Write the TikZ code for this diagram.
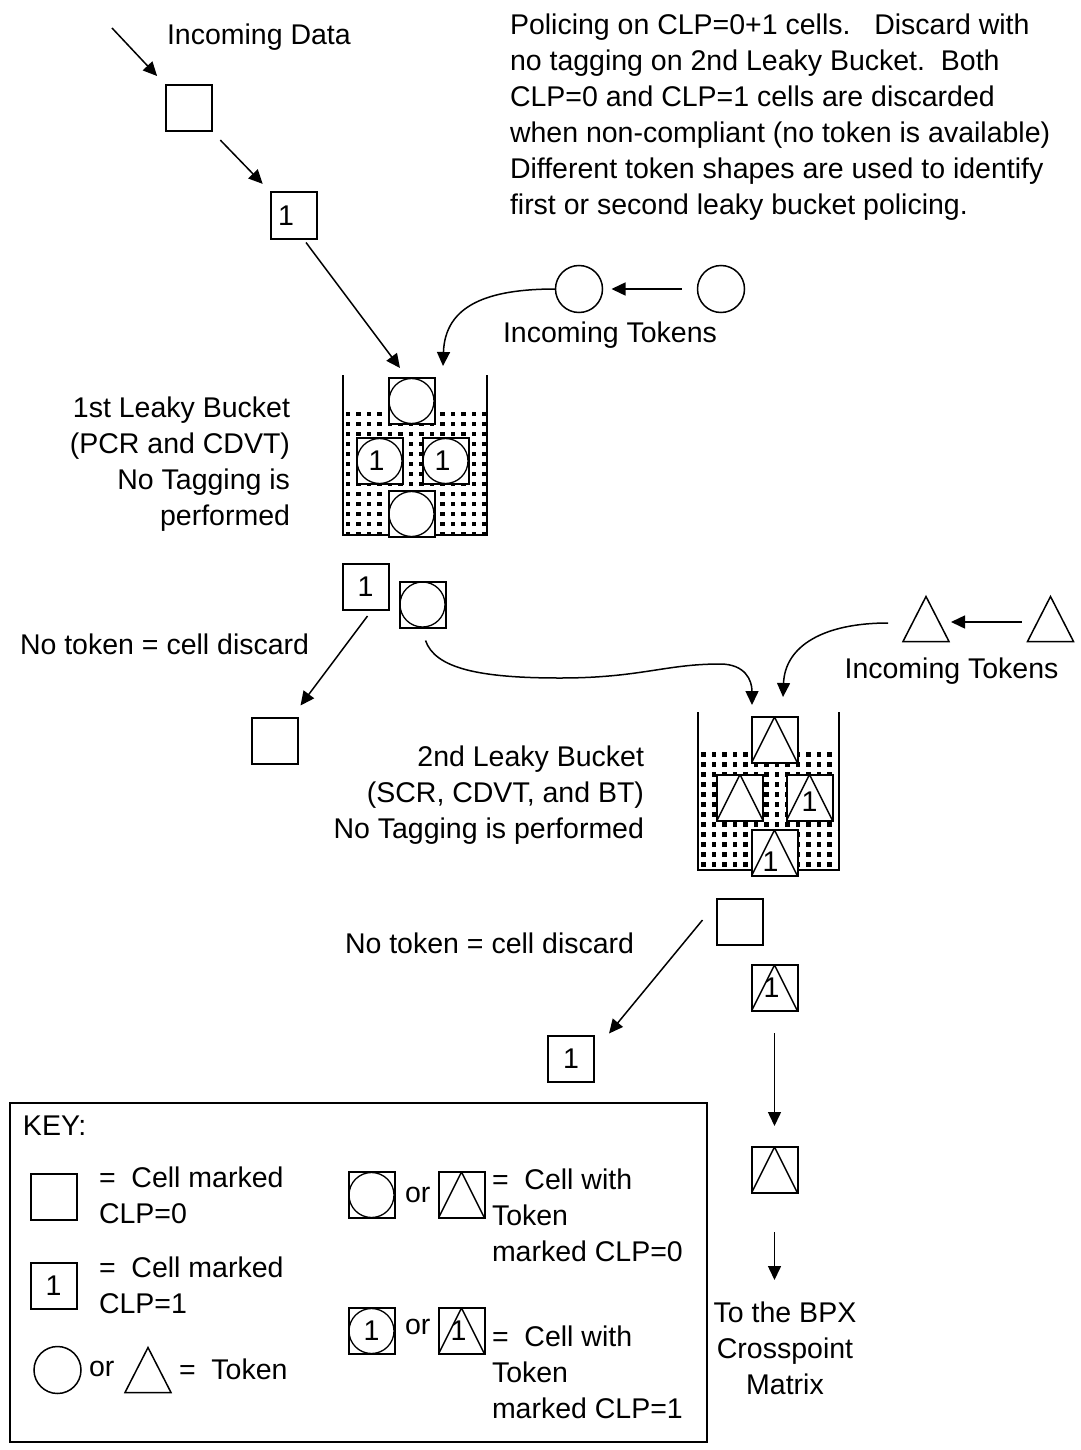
\documentclass[tikz,border=0pt]{standalone}
\usepackage{fontspec}
\setmainfont{Liberation Sans}
\usetikzlibrary{arrows.meta}
\begin{document}
\begin{tikzpicture}[x=1pt,y=-1pt,
  every node/.style={font=\fontsize{28.5}{36}\selectfont, inner sep=0pt, outer sep=0pt},
  cell/.style={draw, line width=2pt, minimum size=46pt, fill=white},
  tokc/.style={cell, path picture={\draw[line width=1.3pt] (path picture bounding box.center) circle (22.5pt);}},
  tokt/.style={cell, path picture={\draw[line width=1.4pt] (path picture bounding box.south west) -- (path picture bounding box.north) -- (path picture bounding box.south east);}},
  circtok/.style={draw, circle, line width=1.5pt, minimum size=47pt},
  trinode/.style={minimum width=46pt, minimum height=45pt},
  tri/.style={line width=1.5pt, line join=miter},
  arr/.style={line width=1.5pt, -{Triangle[length=14pt,width=13pt]}},
  wall/.style={line width=2.5pt},
]
\useasboundingbox (0,0) rectangle (1080,1450);

% ---- incoming data ----
\coordinate (in0) at (112,28);
\node[anchor=base west] (tIn) at (167,45) {Incoming Data};
\node[cell] (d0) at (189,108.5) {};
\node[cell] (d1) at (294,215.5) {\hspace*{-16pt}1};
\draw[arr, shorten >=13pt] (in0) -- (d0.north west);
\draw[arr, shorten <=12pt, shorten >=12pt] (d0.south east) -- (d1.north west);

\node[anchor=north west, align=left] (para) at (510,13.5)
 {Policing on CLP=0+1 cells.\ \ \ Discard with\\
  no tagging on 2nd Leaky Bucket.\ \ Both\\
  CLP=0 and CLP=1 cells are discarded\\
  when non-compliant (no token is available)\\
  Different token shapes are used to identify\\
  first or second leaky bucket policing.};

% ---- tokens 1 ----
\node[circtok] (t1a) at (579,289) {};
\node[circtok] (t1b) at (721,289) {};
\node[anchor=base] (tIT1) at (610,342) {Incoming Tokens};
\coordinate (b1a) at (400,368);
\coordinate (b1c) at (443,366);
\draw[arr] ([shift={(12,4)}]d1.south) -- (b1a);
\draw[arr, shorten <=16pt, shorten >=9pt] (t1b.west) -- (t1a.east);
\draw[arr] (t1a.west) .. controls (488,289) and (445,305) .. (b1c);

% ---- bucket 1 ----
\foreach \i in {0,...,13} \foreach \j in {0,...,12}
  \fill (345.5+\i*10.5, 411.5+\j*10) rectangle ++(4.5,4.5);
\node[tokc] (b1t) at (411.5,401) {};
\node[tokc] (b1l) at (379.5,461) {\hspace*{-6pt}1};
\node[tokc] (b1r) at (445.5,461) {\hspace*{-6pt}1};
\node[tokc] (b1b) at (411.5,514) {};
\draw[wall] (343,375) -- (343,535) -- (388.5,535);
\draw[wall] (434.5,535) -- (487,535) -- (487,375);
\node[anchor=north east, align=right] (lb1) at (290,396.5)
 {1st Leaky Bucket\\(PCR and CDVT)\\No Tagging is\\performed};

% ---- outputs of bucket 1 ----
\node[cell] (o1) at (365.5,587) {1};
\node[tokc] (o2) at (422.5,604.5) {};
\node[cell] (x1) at (274.5,740.5) {};
\node[anchor=base west] (nt1) at (20,654) {No token = cell discard};
\draw[arr] ([shift={(2,6)}]o1.south) -- ([shift={(26,-12)}]x1.north);
\coordinate (b2a) at (752,705);
\draw[arr] ([shift={(3,13)}]o2.south) .. controls (435,668) and (478,678) .. (560,678)
  .. controls (640,678) and (665,664) .. (720,664)
  .. controls (745,664) and (752,680) .. (b2a);

% ---- tokens 2 ----
\node[trinode] (t2a) at (926,619) {};
\node[trinode] (t2b) at (1050.5,619) {};
\draw[tri] (t2a.south west) -- (t2a.north) -- (t2a.south east) -- cycle;
\draw[tri] (t2b.south west) -- (t2b.north) -- (t2b.south east) -- cycle;
\draw[arr, shorten <=6pt, shorten >=2pt] ([shift={(0,3)}]t2b.west) -- ([shift={(0,3)}]t2a.east);
\node[anchor=base] (tIT2) at (951.5,678) {Incoming Tokens};
\coordinate (b2b) at (783,697);
\draw[arr] ([shift={(-15,4)}]t2a.west) .. controls (825,623) and (785,645) .. (b2b);

% ---- bucket 2 ----
\foreach \i in {0,...,12} \foreach \j in {0,...,11}
  \fill (701+\i*10.5, 752+\j*10) rectangle ++(4.5,4.5);
\node[tokt] (b2t) at (774.5,740) {};
\node[tokt] (b2l) at (740,797.5) {};
\node[tokt] (b2r) at (809.5,797.5) {\raisebox{-14pt}[0pt][0pt]{1}};
\node[tokt] (b2bb) at (774.5,853) {\hspace*{-8pt}\raisebox{-18pt}[0pt][0pt]{1}};
\draw[wall] (698,712) -- (698,870) -- (751.5,870);
\draw[wall] (797.5,870) -- (839,870) -- (839,712);
\node[anchor=north east, align=right] (lb2) at (644,745.5)
 {2nd Leaky Bucket\\(SCR, CDVT, and BT)\\No Tagging is performed};

% ---- outputs of bucket 2 ----
\node[cell] (e1) at (739.5,922) {};
\node[tokt] (e2) at (774.5,988) {\hspace*{-6pt}1};
\node[cell] (x2) at (571,1058.5) {1};
\node[anchor=base west] (nt2) at (345,953) {No token = cell discard};
\draw[arr] ([shift={(-14,-2)}]e1.west) -- ([shift={(15,-2)}]x2.north east);
\node[tokt] (f1) at (774.5,1170) {};
\draw[arr, shorten <=22pt, shorten >=21pt] (e2.south) -- (f1.north);
\coordinate (dend) at (774.5,1280);
\draw[arr] ([shift={(0,39)}]f1.south) -- (dend);
\node[anchor=north, align=center] (dest) at (785,1301.5) {To the BPX\\Crosspoint\\Matrix};

% ---- key ----
\node[draw, line width=2pt, anchor=north west, minimum width=697pt, minimum height=339pt] (key) at (10,1103) {};
\node[anchor=base west] (keyt) at (23,1135) {KEY:};
\node[cell] (k1) at (53.5,1196.5) {};
\node[anchor=north west, align=left] (k1t) at (99,1166.5) {=\ \ Cell marked\\CLP=0};
\node[cell] (k2) at (53.5,1285.5) {1};
\node[anchor=north west, align=left] (k2t) at (99,1256.5) {=\ \ Cell marked\\CLP=1};
\node[circtok] (k3) at (57.5,1370) {};
\node[anchor=base west] (k3o) at (89,1376) {or};
\node[trinode] (k4) at (148,1370) {};
\draw[tri] (k4.south west) -- (k4.north) -- (k4.south east) -- cycle;
\node[anchor=base west] (k4t) at (179,1379) {=\ \ Token};
\node[tokc] (kc1) at (371.5,1195) {};
\node[anchor=base west] (kor1) at (405,1202) {or};
\node[tokt] (kt1) at (461.5,1195) {};
\node[anchor=north west, align=left] (kt1t) at (492,1168.5) {=\ \ Cell with\\Token\\marked CLP=0};
\node[tokc] (kc2) at (371.5,1331) {1};
\node[anchor=base west] (kor2) at (405,1334) {or};
\node[tokt] (kt2) at (461.5,1331) {\hspace*{-6pt}1};
\node[anchor=north west, align=left] (kt2t) at (492,1325.5) {=\ \ Cell with\\Token\\marked CLP=1};
\end{tikzpicture}
\end{document}
